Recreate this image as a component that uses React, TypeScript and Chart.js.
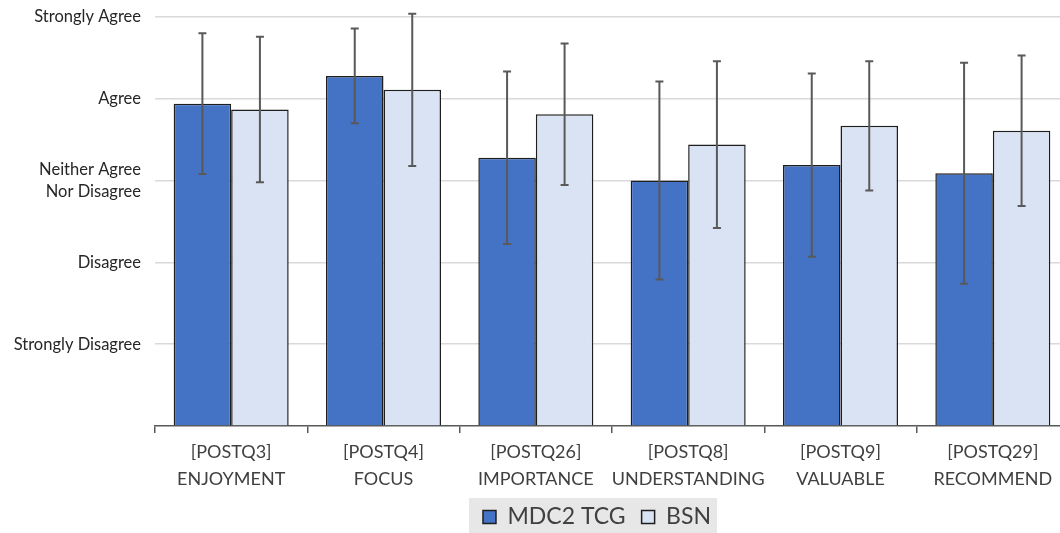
import React, { useEffect, useRef } from "react";
import { Chart, registerables } from "chart.js";

Chart.register(...registerables);

const categories: string[][] = [
  ["[POSTQ3]", "ENJOYMENT"],
  ["[POSTQ4]", "FOCUS"],
  ["[POSTQ26]", "IMPORTANCE"],
  ["[POSTQ8]", "UNDERSTANDING"],
  ["[POSTQ9]", "VALUABLE"],
  ["[POSTQ29]", "RECOMMEND"],
];

const mdc2Values = [3.94, 4.28, 3.28, 3.0, 3.19, 3.09];
const mdc2Errors = [0.86, 0.58, 1.055, 1.21, 1.12, 1.35];
const bsnValues = [3.87, 4.11, 3.81, 3.44, 3.67, 3.61];
const bsnErrors = [0.89, 0.93, 0.865, 1.02, 0.79, 0.92];

const yTickLabels: Record<number, string | string[]> = {
  1: "Strongly Disagree",
  2: "Disagree",
  3: ["Neither Agree", "Nor Disagree"],
  4: "Agree",
  5: "Strongly Agree",
};

const seriesNames = ["MDC2 TCG", "BSN"];

const W = 1075;
const H = 533;
const PLOT_LEFT = 155;
const PLOT_TOP = 17;
const PLOT_BOTTOM = 426;
const LEGEND_CENTER = 597;

export default function App() {
  const ref = useRef<HTMLCanvasElement | null>(null);

  useEffect(() => {
    document.body.style.margin = "0";
    const canvas = ref.current;
    if (!canvas) return;

    const errorBars = {
      id: "errorBars",
      afterDatasetsDraw(chart: any) {
        const ctx = chart.ctx;
        const y = chart.scales.y;
        const errs = [mdc2Errors, bsnErrors];
        ctx.save();
        ctx.strokeStyle = "#595959";
        ctx.lineWidth = 2;
        chart.data.datasets.forEach((ds: any, i: number) => {
          const meta = chart.getDatasetMeta(i);
          meta.data.forEach((el: any, j: number) => {
            const v = ds.data[j];
            const e = errs[i][j];
            const yt = y.getPixelForValue(v + e);
            const yb = y.getPixelForValue(v - e);
            const x = el.x;
            ctx.beginPath();
            ctx.moveTo(x, yt);
            ctx.lineTo(x, yb);
            ctx.moveTo(x - 4, yt);
            ctx.lineTo(x + 4, yt);
            ctx.moveTo(x - 4, yb);
            ctx.lineTo(x + 4, yb);
            ctx.stroke();
          });
        });
        ctx.restore();
      },
    };

    const legendBox = {
      id: "legendBox",
      afterLayout(chart: any) {
        const lg = chart.legend;
        const xs = chart.scales.x;
        if (xs) {
          xs.bottom = H;
          xs.height = H - xs.top;
        }
        if (!lg) return;
        const dx = LEGEND_CENTER - (lg.left + lg.right) / 2;
        lg.left += dx;
        lg.right += dx;
        lg.top += 5.5;
        lg.bottom += 5.5;
      },
      beforeDraw(chart: any) {
        const lg = chart.legend;
        if (!lg || !lg.legendHitBoxes || !lg.legendHitBoxes.length) return;
        const hb = lg.legendHitBoxes;
        const first = hb[0];
        const last = hb[hb.length - 1];
        const cy = first.top + first.height / 2;
        const ctx = chart.ctx;
        ctx.save();
        ctx.fillStyle = "#e7e7e7";
        const x0 = first.left - 14;
        const x1 = last.left + last.width + 6;
        ctx.fillRect(x0, cy - 19, x1 - x0, H - (cy - 19));
        ctx.restore();
      },
    };

    const chart = new Chart(canvas, {
      type: "bar",
      data: {
        labels: categories,
        datasets: [
          {
            label: seriesNames[0],
            data: mdc2Values,
            backgroundColor: "#4472C4",
            borderColor: "#1e1e1e",
            borderWidth: 1.5,
          },
          {
            label: seriesNames[1],
            data: bsnValues,
            backgroundColor: "#DAE3F3",
            borderColor: "#1e1e1e",
            borderWidth: 1.5,
          },
        ],
      },
      options: {
        responsive: false,
        animation: false,
        events: [],
        datasets: {
          bar: { categoryPercentage: 0.755, barPercentage: 1.0 },
        },
        layout: { padding: { left: 0, right: 6, top: PLOT_TOP, bottom: 0 } },
        plugins: {
          tooltip: { enabled: false },
          legend: {
            display: true,
            position: "bottom",
            labels: {
              boxWidth: 13,
              boxHeight: 13,
              padding: 16,
              color: "#404040",
              font: { family: "Lato", size: 23 },
            },
          },
        },
        scales: {
          x: {
            grid: {
              display: true,
              drawOnChartArea: false,
              offset: true,
              tickLength: 7,
              color: "#595959",
              lineWidth: 1.5,
            },
            border: { display: true, color: "#595959", width: 1.5 },
            ticks: {
              color: "#404040",
              padding: 6,
              maxRotation: 0,
              autoSkip: false,
              font: { family: "Lato", size: 18, lineHeight: 1.5 },
            },
            afterFit(scale: any) {
              const lgH = scale.chart.legend ? scale.chart.legend.height : 0;
              scale.height = H - PLOT_BOTTOM - lgH;
            },
          },
          y: {
            min: 0,
            max: 5,
            border: { display: false },
            grid: {
              color: (c: any) => (c.tick && c.tick.value === 0 ? "rgba(0,0,0,0)" : "#d9d9d9"),
              lineWidth: 1.5,
              drawTicks: false,
            },
            ticks: {
              stepSize: 1,
              padding: 14,
              color: "#262626",
              font: { family: "Lato", size: 16.5, lineHeight: 1.35 },
              callback: (v: any) => yTickLabels[Number(v)] ?? "",
            },
            afterFit(scale: any) {
              scale.width = PLOT_LEFT;
              scale.paddingTop = 0;
              scale.paddingBottom = 0;
            },
          },
        },
      },
      plugins: [errorBars, legendBox],
    });

    return () => chart.destroy();
  }, []);

  return (
    <div
      style={{
        position: "fixed",
        left: 0,
        top: 0,
        width: 1060,
        height: 533,
        overflow: "hidden",
        background: "#fff",
      }}
    >
      <canvas ref={ref} width={W} height={H} style={{ display: "block", width: W, height: H }} />
    </div>
  );
}
